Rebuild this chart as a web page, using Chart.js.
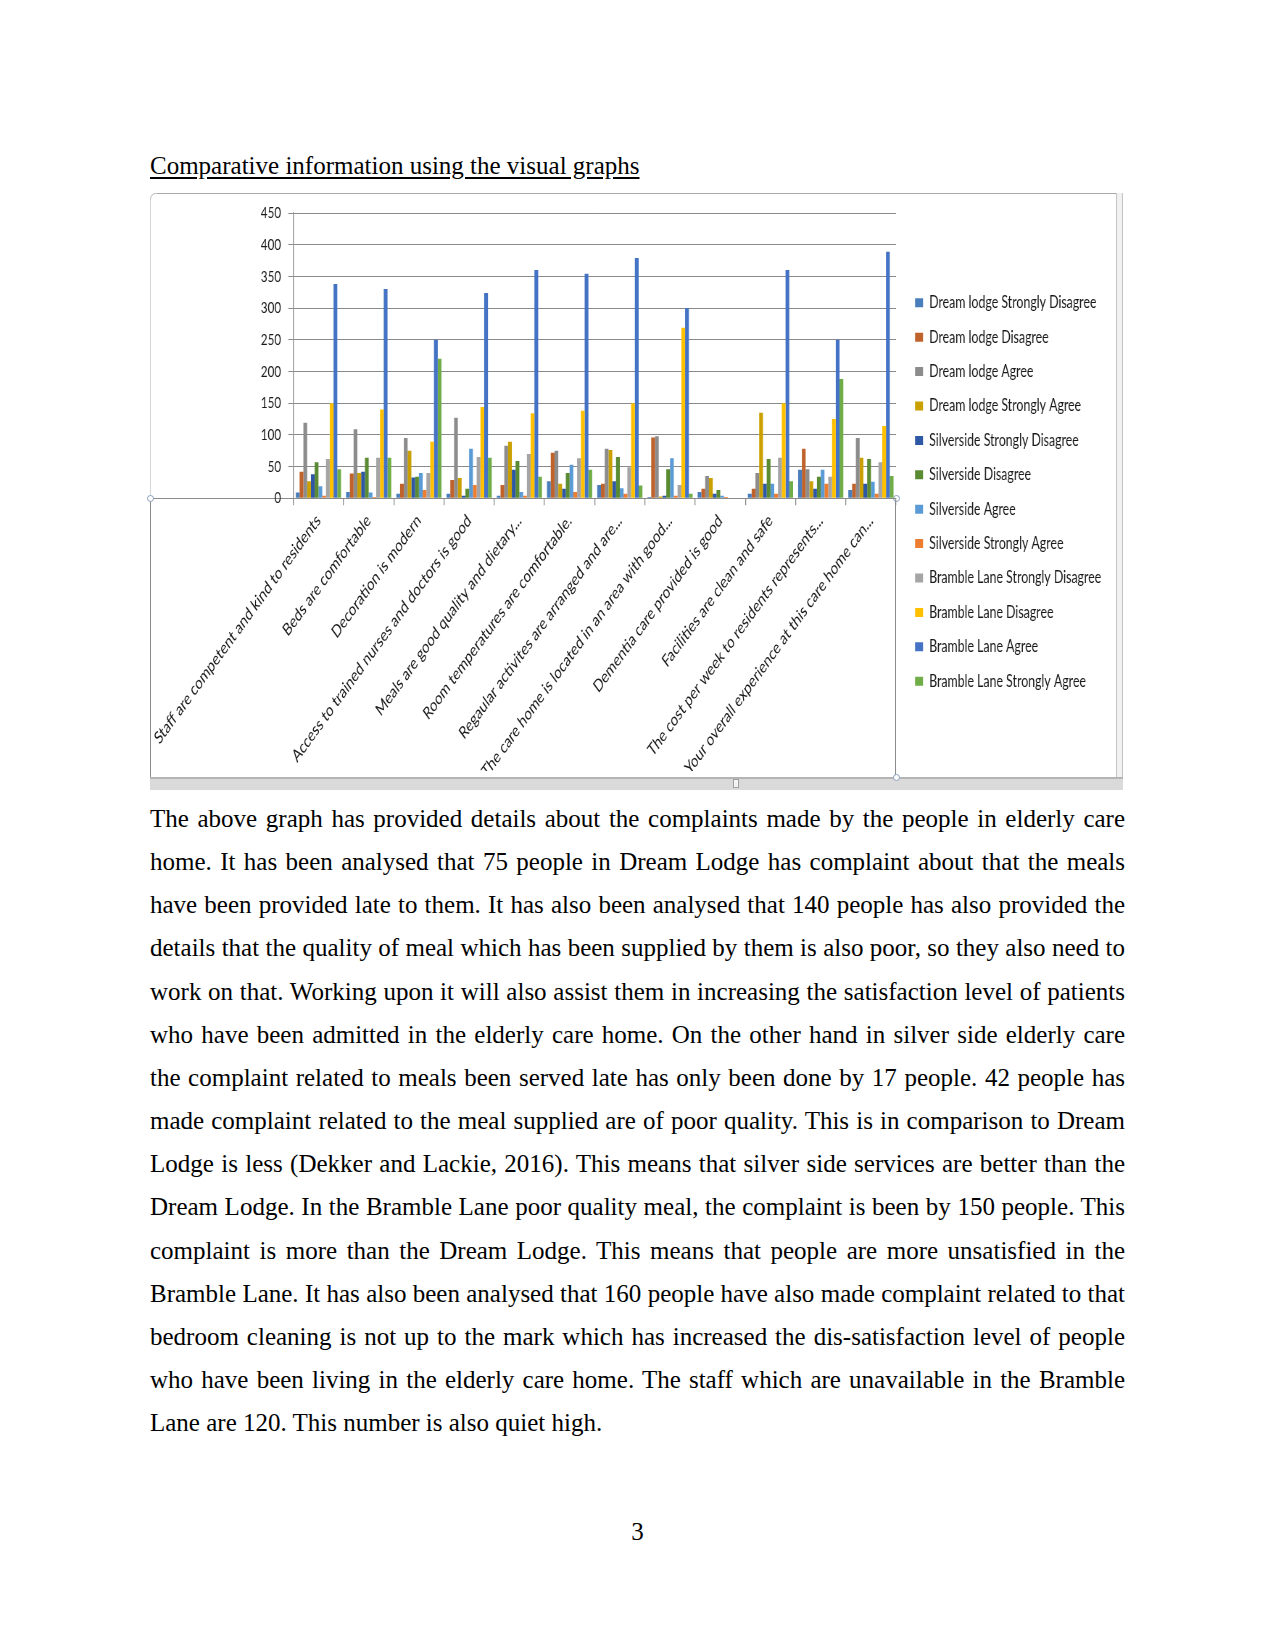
<!DOCTYPE html>
<html>
<head>
<meta charset="utf-8">
<script src="https://cdn.jsdelivr.net/npm/chart.js@4.4.1/dist/chart.umd.min.js"></script>
<style>
  html, body { margin: 0; padding: 0; background: #fff; }
  body { width: 1275px; height: 1651px; position: relative; overflow: hidden;
         font-family: 'Liberation Serif', 'Times New Roman', serif; color: #000; }
  .title { position: absolute; left: 150px; top: 144px; font-size: 25px; line-height: 43px;
           text-decoration: underline; text-underline-offset: 3px; }
  .line { position: absolute; }
  #chart { position: absolute; left: 150px; top: 193px;
           transform: scaleX(0.725); transform-origin: 0 0; }
  .handle { position: absolute; width: 5px; height: 5px; border-radius: 50%;
            border: 1px solid #8aa0bb; background: #fff; }
  .body-text { position: absolute; left: 150px; top: 797px; width: 975px; font-size: 25px; line-height: 43.15px; }
  .body-text div { text-align: justify; text-align-last: justify; }
  .body-text div.last { text-align-last: left; }
  .page-num { position: absolute; left: 0; width: 1275px; top: 1510px; text-align: center; font-size: 25px; line-height: 43px; }
</style>
</head>
<body>
<div class="title">Comparative information using the visual graphs</div>

<!-- chart frame (screenshot border) -->
<div class="line" style="left:154px;top:193px;width:963px;height:0;border-top:1px solid #a8a8a8;"></div>
<div class="line" style="left:150px;top:197px;width:0;height:301px;border-left:1px solid #d6d6d6;"></div>
<div class="line" style="left:150px;top:193px;width:6px;height:6px;border-top:1px solid #c8c8c8;border-left:1px solid #c8c8c8;border-top-left-radius:6px;"></div>
<div class="line" style="left:1116px;top:193px;width:5px;height:594px;background:#f1f1f1;border-left:1px solid #c4c4c4;border-right:1px solid #c4c4c4;"></div>
<div class="line" style="left:150px;top:498px;width:746px;height:279px;border:1px solid #8c8c8c;border-bottom:none;box-sizing:border-box;"></div>
<div class="line" style="left:150px;top:777px;width:973px;height:11px;background:#dadada;border-top:2px solid #b4b4b4;"></div>
<div class="line" style="left:733px;top:779px;width:6px;height:9px;background:#f4f4f4;border:1px solid #a0a0a0;box-sizing:border-box;"></div>
<div class="handle" style="left:147px;top:495px;"></div>
<div class="handle" style="left:893px;top:495px;"></div>
<div class="handle" style="left:893px;top:774px;"></div>

<canvas id="chart" height="584"></canvas>

<div class="body-text">
  <div>The above graph has provided details about the complaints made by the people in elderly care</div>
  <div>home. It has been analysed that 75 people in Dream Lodge has complaint about that the meals</div>
  <div>have been provided late to them. It has also been analysed that 140 people has also provided the</div>
  <div>details that the quality of meal which has been supplied by them is also poor, so they also need to</div>
  <div>work on that. Working upon it will also assist them in increasing the satisfaction level of patients</div>
  <div>who have been admitted in the elderly care home. On the other hand in silver side elderly care</div>
  <div>the complaint related to meals been served late has only been done by 17 people. 42 people has</div>
  <div>made complaint related to the meal supplied are of poor quality. This is in comparison to Dream</div>
  <div>Lodge is less (Dekker and Lackie, 2016). This means that silver side services are better than the</div>
  <div>Dream Lodge. In the Bramble Lane poor quality meal, the complaint is been by 150 people. This</div>
  <div>complaint is more than the Dream Lodge. This means that people are more unsatisfied in the</div>
  <div>Bramble Lane. It has also been analysed that 160 people have also made complaint related to that</div>
  <div>bedroom cleaning is not up to the mark which has increased the dis-satisfaction level of people</div>
  <div>who have been living in the elderly care home. The staff which are unavailable in the Bramble</div>
  <div class="last">Lane are 120. This number is also quiet high.</div>
</div>

<div class="page-num">3</div>

<script>
// Categories (survey statements)
const categories = [
  'Staff are competent and kind to residents',
  'Beds are comfortable',
  'Decoration is modern',
  'Access to trained nurses and doctors is good',
  'Meals are good quality and dietary...',
  'Room temperatures are comfortable.',
  'Regaular activites are arranged and are...',
  'The care home is located in an area with good...',
  'Dementia care provided is good',
  'Facilities are clean and safe',
  'The cost per week to residents represents...',
  'Your overall experience at this care home can...'
];

// Series values, one array per legend entry
const dreamStronglyDisagree      = [9, 10, 7, 7, 4, 27, 21, 2, 10, 7, 45, 13];
const dreamDisagree              = [42, 39, 23, 29, 21, 72, 23, 96, 15, 15, 78, 23];
const dreamAgree                 = [119, 109, 95, 127, 83, 75, 78, 98, 35, 40, 46, 95];
const dreamStronglyAgree         = [27, 40, 75, 32, 89, 23, 76, 3, 32, 135, 27, 64];
const silverStronglyDisagree     = [38, 42, 33, 4, 45, 15, 27, 4, 7, 23, 15, 23];
const silverDisagree             = [57, 64, 34, 15, 59, 40, 65, 46, 13, 62, 34, 62];
const silverAgree                = [19, 9, 40, 78, 10, 53, 16, 63, 4, 23, 45, 26];
const silverStronglyAgree        = [4, 2, 13, 21, 4, 10, 7, 4, 2, 7, 23, 7];
const brambleStronglyDisagree    = [62, 64, 40, 65, 70, 63, 49, 21, 1, 64, 34, 57];
const brambleDisagree            = [150, 140, 89, 144, 134, 138, 150, 269, 0, 150, 125, 114];
const brambleAgree               = [338, 330, 250, 324, 360, 354, 379, 300, 0, 360, 250, 389];
const brambleStronglyAgree       = [46, 64, 220, 64, 34, 45, 20, 7, 0, 27, 188, 35];

const seriesNames = [
  'Dream lodge Strongly Disagree', 'Dream lodge Disagree', 'Dream lodge Agree', 'Dream lodge Strongly Agree',
  'Silverside Strongly Disagree', 'Silverside Disagree', 'Silverside Agree', 'Silverside Strongly Agree',
  'Bramble Lane Strongly Disagree', 'Bramble Lane Disagree', 'Bramble Lane Agree', 'Bramble Lane Strongly Agree'
];
const seriesValues = [
  dreamStronglyDisagree, dreamDisagree, dreamAgree, dreamStronglyAgree,
  silverStronglyDisagree, silverDisagree, silverAgree, silverStronglyAgree,
  brambleStronglyDisagree, brambleDisagree, brambleAgree, brambleStronglyAgree
];
const seriesColors = [
  '#4A7EBB', '#C0622B', '#8C8C8C', '#C9A000',
  '#2E58A6', '#5A8A32', '#5B9BD5', '#ED7D31',
  '#A5A5A5', '#FFC000', '#4472C4', '#70AD47'
];

const yMin = 0;
const yMax = 450;
const yStep = 50;

// canvas is squeezed horizontally (like the pasted screenshot), so these are canvas px
const PLOT_LEFT = 197.7;
const PLOT_RIGHT = 1026;
const GAP = 8.8;
const LEGEND_PAD = 17.4;
const LEGEND_BOX = 11;
const LEGEND_SIZE = 17;
const LEGEND_SLACK = 13; // chart.js legend comes out a bit wider than the plain measure
const PAD_TOP = 20;
const PAD_BOTTOM = 6;
const CANVAS_H = 584;

const chartFont = "'Lato', 'Liberation Sans', sans-serif";
const gridGrey = '#8a8a8a';

// work out the legend width up front so the plot ends where it should
const canvas = document.getElementById('chart');
const mctx = canvas.getContext('2d');
mctx.font = LEGEND_SIZE + 'px ' + chartFont;
const maxText = Math.max(...seriesNames.map(n => mctx.measureText(n).width));
const legendW = LEGEND_PAD + LEGEND_BOX + LEGEND_SIZE / 2 + maxText + LEGEND_SLACK;
canvas.width = Math.round(PLOT_RIGHT + GAP + legendW);
canvas.height = CANVAS_H;

const chart = new Chart(canvas, {
  type: 'bar',
  data: {
    labels: categories,
    datasets: seriesNames.map((name, i) => ({
      label: name,
      data: seriesValues[i],
      backgroundColor: seriesColors[i],
      borderWidth: 0,
      categoryPercentage: 0.9,
      barPercentage: 1.0
    }))
  },
  options: {
    responsive: false,
    animation: false,
    devicePixelRatio: 1,
    layout: { padding: { top: PAD_TOP, bottom: PAD_BOTTOM, left: 0, right: 0 } },
    plugins: {
      tooltip: { enabled: false },
      legend: {
        position: 'right',
        maxWidth: 600,
        labels: {
          boxWidth: LEGEND_BOX,
          boxHeight: 9,
          padding: LEGEND_PAD,
          color: '#1a1a1a',
          font: { family: chartFont, size: LEGEND_SIZE }
        }
      }
    },
    scales: {
      x: {
        grid: { drawOnChartArea: false, drawTicks: true, tickLength: 7, color: gridGrey, lineWidth: 1.3 },
        border: { display: true, color: gridGrey, width: 1 },
        ticks: {
          autoSkip: false, minRotation: 45, maxRotation: 45, padding: 5,
          color: '#1a1a1a', font: { family: chartFont, size: 17.5 }
        },
        afterFit: s => {
          s.height = CANVAS_H - PAD_BOTTOM - 305.3;
          // long first label may hang left; don't let it push the plot
          s.paddingLeft = 0;
          s.paddingRight = 0;
        }
      },
      y: {
        min: yMin, max: yMax,
        grid: { color: gridGrey, lineWidth: 1, tickLength: 7 },
        border: { display: true, color: gridGrey, width: 1.3 },
        ticks: {
          stepSize: yStep, padding: 10,
          color: '#1a1a1a', font: { family: chartFont, size: 16 }
        },
        afterFit: s => { s.width = PLOT_LEFT; }
      },
      gap: {
        type: 'linear', position: 'right', display: true,
        grid: { display: false, drawTicks: false },
        border: { display: false },
        ticks: { display: false },
        afterFit: s => { s.width = GAP; }
      }
    }
  }
});
</script>
</body>
</html>
